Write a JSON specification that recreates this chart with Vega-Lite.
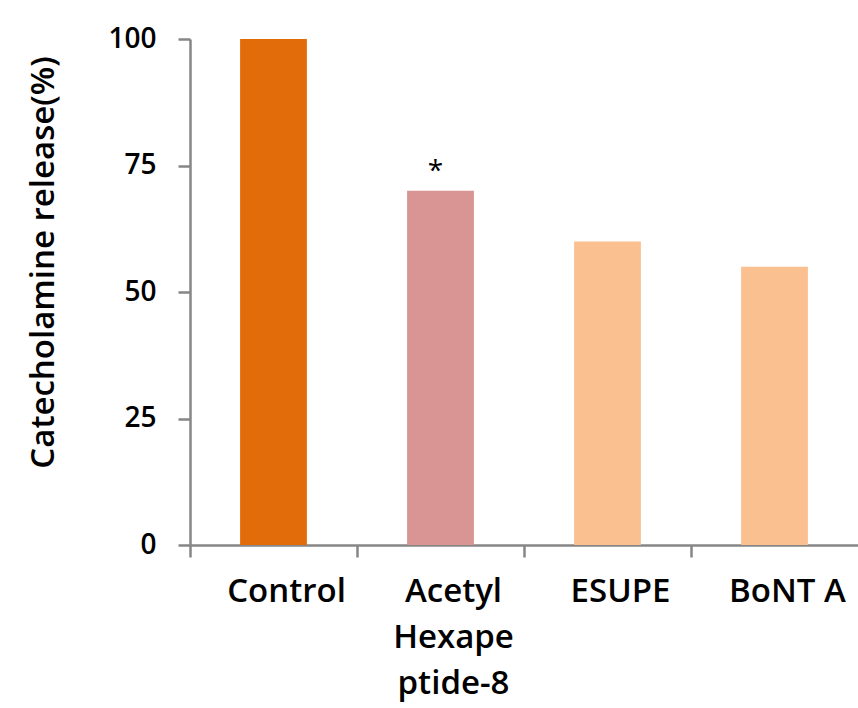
{
  "$schema": "https://vega.github.io/schema/vega-lite/v6.json",
  "autosize": {"type": "none"},
  "padding": {"left": 190, "top": 39, "right": 0, "bottom": 163},
  "width": 668,
  "height": 506,
  "background": "white",
  "config": {
    "view": {"stroke": null},
    "font": "Open Sans",
    "axis": {"grid": false, "domainColor": "#868686", "tickColor": "#868686", "domainWidth": 2.5, "tickWidth": 2.5, "tickSize": 12, "labelColor": "#000000", "titleColor": "#000000"}
  },
  "data": {
    "values": [
      {"group": "Control", "release": 100, "sig": ""},
      {"group": "Acetyl Hexapeptide-8", "release": 70, "sig": "*"},
      {"group": "ESUPE", "release": 60, "sig": ""},
      {"group": "BoNT A", "release": 55, "sig": ""}
    ]
  },
  "encoding": {
    "x": {
      "field": "group", "type": "nominal", "sort": null,
      "scale": {"paddingInner": 0, "paddingOuter": 0},
      "axis": {
        "title": null, "labelAngle": 0, "bandPosition": 0, "labelOffset": 13,
        "labelFontSize": 33, "labelFontWeight": 600, "labelPadding": 18, "labelBaseline": "top",
        "labelLineHeight": 46,
        "labelExpr": "datum.value == 'Acetyl Hexapeptide-8' ? ['Acetyl', 'Hexape', 'ptide-8'] : datum.label"
      }
    },
    "y": {
      "field": "release", "type": "quantitative",
      "scale": {"domain": [0, 100]},
      "axis": {
        "title": "Catecholamine release(%)", "values": [0, 25, 50, 75, 100],
        "labelFontSize": 28, "labelFontWeight": 600, "labelPadding": 22,
        "titleFontSize": 33, "titleFontWeight": 600,
        "titleAngle": -90, "titleX": -147, "titleY": 223,
        "titleAlign": "center", "titleBaseline": "middle"
      }
    }
  },
  "layer": [
    {
      "mark": {"type": "bar", "width": {"band": 0.4}},
      "encoding": {
        "color": {
          "field": "group", "type": "nominal", "legend": null,
          "scale": {
            "domain": ["Control", "Acetyl Hexapeptide-8", "ESUPE", "BoNT A"],
            "range": ["#E36C0A", "#D99594", "#FAC090", "#FAC090"]
          }
        }
      }
    },
    {
      "mark": {"type": "text", "fontSize": 28, "dy": -19, "dx": -5, "color": "#000000"},
      "encoding": {"text": {"field": "sig"}}
    }
  ]
}
